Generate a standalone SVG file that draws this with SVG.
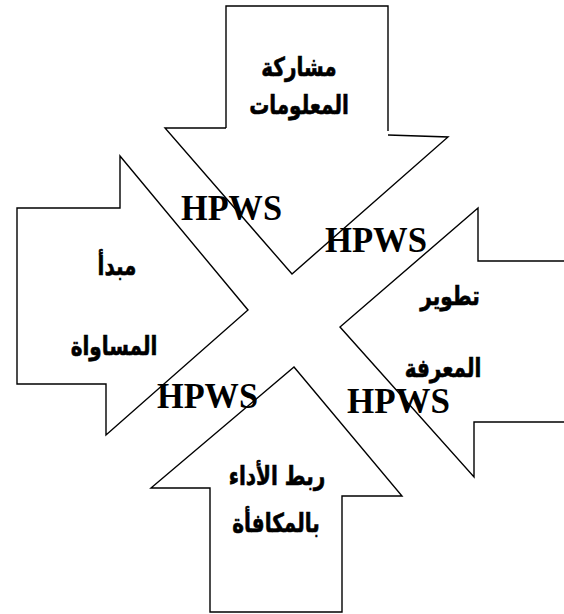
<svg xmlns="http://www.w3.org/2000/svg" width="564" height="614" viewBox="0 0 564 614">
<style>
.arrow{fill:none;stroke:#000;stroke-width:1.4;stroke-linejoin:miter}
.ar{font-family:"DejaVu Sans","Noto Sans",sans-serif;font-weight:bold;font-size:20px;text-anchor:middle;fill:#000;stroke:#000;stroke-width:0.5}
.hp{font-family:"Liberation Serif","Times New Roman",serif;font-weight:bold;font-size:35px;fill:#000}
</style>
<rect width="564" height="614" fill="#fff"/>
<g id="connectors"></g>
<g id="top-arrow">
<polyline class="arrow" points="226,128 226,6 388,6 388,131"/>
<polyline class="arrow" points="388,135 448,137 292,274 165,128 226,128"/>
<text class="ar" transform="translate(299,76) scale(1,1.3)">مشاركة</text>
<text class="ar" transform="translate(299,114) scale(1,1.3)">المعلومات</text>
</g>
<g id="left-arrow">
<polygon class="arrow" points="17,208 120,208 120,156 248,310 106,435 106,384 17,384"/>
<text class="ar" transform="translate(117,275) scale(1,1.3)">مبدأ</text>
<text class="ar" transform="translate(114,355) scale(1,1.3)">المساواة</text>
</g>
<g id="right-arrow">
<polyline class="arrow" points="564,261 478,261 478,208 340,327 474,477 474,422 564,422"/>
<text class="ar" transform="translate(450,305) scale(1,1.3)">تطوير</text>
<text class="ar" transform="translate(443,377) scale(1,1.3)">المعرفة</text>
</g>
<g id="bottom-arrow">
<polygon class="arrow" points="294,367 402,496 342,496 342,612 210,612 210,488 151,488"/>
<text class="ar" transform="translate(277,485) scale(1,1.3)">ربط الأداء</text>
<text class="ar" transform="translate(276,532) scale(1,1.3)">بالمكافأة</text>
</g>
<g id="hpws-labels">
<text class="hp" x="181" y="220" textLength="101" lengthAdjust="spacingAndGlyphs">HPWS</text>
<text class="hp" x="325" y="252" textLength="102" lengthAdjust="spacingAndGlyphs">HPWS</text>
<text class="hp" x="157" y="408" textLength="101" lengthAdjust="spacingAndGlyphs">HPWS</text>
<text class="hp" x="347" y="413" textLength="103" lengthAdjust="spacingAndGlyphs">HPWS</text>
</g>
</svg>
